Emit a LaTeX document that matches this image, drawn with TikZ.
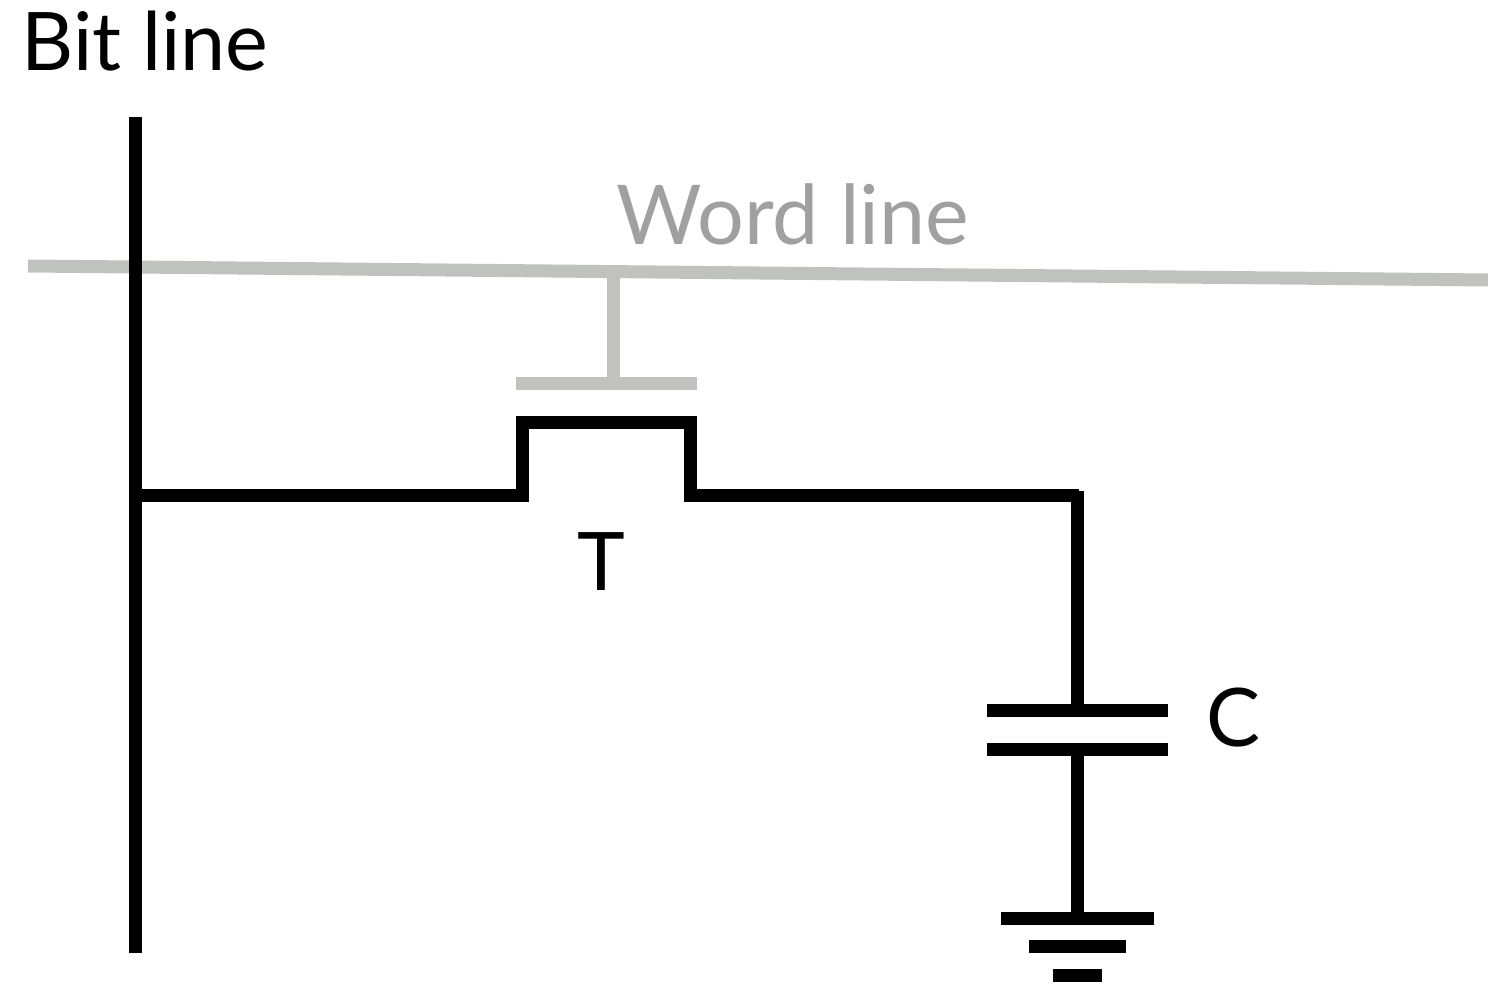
\documentclass[tikz,border=0pt]{standalone}
\usepackage{fontspec}
\setmainfont{Lato}
\definecolor{wordgray}{HTML}{C0C2C0}
\definecolor{wordtext}{HTML}{A0A0A0}
\tikzset{
	wire/.style={line width=0.13cm, black},
	wordwire/.style={line width=0.13cm, wordgray},
	lbl/.style={inner sep=0pt, anchor=base west, font=\fontsize{23}{23}\selectfont}
}
\begin{document}
\begin{tikzpicture}
	\useasboundingbox (0,0) rectangle (14.88,9.84);
	\coordinate (bittop) at (1.355,8.67);
	\coordinate (bitbot) at (1.355,0.31);
	\coordinate (bitjoin) at (1.355,4.885);
	\coordinate (wordl) at (0.28,7.18);
	\coordinate (wordr) at (14.88,7.04);
	\coordinate (stubtop) at (6.13,7.09);
	\coordinate (stubbot) at (6.13,6.005);
	\coordinate (gatel) at (5.16,6.005);
	\coordinate (gater) at (6.97,6.005);
	\coordinate (chanl) at (5.225,4.9);
	\coordinate (chanlt) at (5.225,5.615);
	\coordinate (chanrt) at (6.905,5.615);
	\coordinate (chanr) at (6.905,4.9);
	\coordinate (srcend) at (5.29,4.885);
	\coordinate (drnstart) at (6.84,4.885);
	\coordinate (corner) at (10.79,4.885);
	\coordinate (capin) at (10.775,4.93);
	\coordinate (capa) at (10.775,2.733);
	\coordinate (capb) at (10.775,2.343);
	\coordinate (capal) at (9.87,2.733);
	\coordinate (capar) at (11.68,2.733);
	\coordinate (capbl) at (9.87,2.343);
	\coordinate (capbr) at (11.68,2.343);
	\coordinate (gnd) at (10.775,0.65);
	\coordinate (gndal) at (10.01,0.65);
	\coordinate (gndar) at (11.54,0.65);
	\coordinate (gndbl) at (10.29,0.37);
	\coordinate (gndbr) at (11.26,0.37);
	\coordinate (gndcl) at (10.53,0.085);
	\coordinate (gndcr) at (11.02,0.085);
	% gray wires first, the bit line runs over them
	\draw[wordwire] (wordl)--(wordr);
	\draw[wordwire] (stubtop)--(stubbot);
	\draw[wordwire] (gatel)--(gater);
	\draw[wire] (bittop)--(bitbot);
	\draw[wire] (bitjoin)--(srcend);
	\draw[wire,miter limit=10] (chanl)--(chanlt)--(chanrt)--(chanr);
	\draw[wire] (drnstart)--(corner);
	\draw[wire] (capin)--(capa);
	\draw[wire] (capal)--(capar);
	\draw[wire] (capbl)--(capbr);
	\draw[wire] (capb)--(gnd);
	\draw[wire] (gndal)--(gndar);
	\draw[wire] (gndbl)--(gndbr);
	\draw[wire] (gndcl)--(gndcr);
	\node[lbl] (bitlabel) at (0.21,9.13) {Bit line};
	\node[lbl,text=wordtext,font=\fontsize{23.5}{23.5}\selectfont] (wordlabel) at (6.16,7.39) {Word line};
	\node[lbl] (tlabel) at (5.77,3.93) {T};
	\node[lbl] (clabel) at (12.06,2.37) {C};
\end{tikzpicture}
\end{document}
